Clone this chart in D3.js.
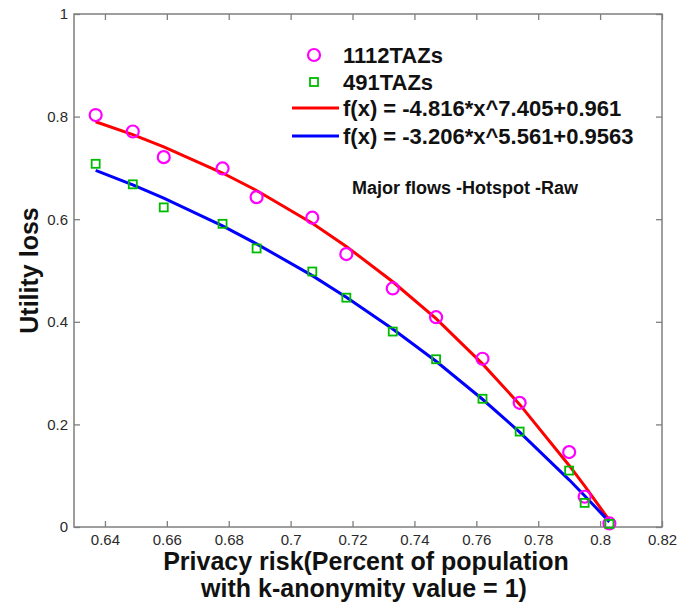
<!DOCTYPE html>
<html>
<head>
<meta charset="utf-8">
<script src="https://cdn.jsdelivr.net/npm/d3@7"></script>
<style>
  body { margin: 0; background: #fff; }
  svg text { font-family: "Liberation Sans", Arial, sans-serif; }
</style>
</head>
<body>
<div id="chart"></div>
<script>
// data
const privacy_risk = [0.637, 0.649, 0.659, 0.678, 0.689, 0.707, 0.718, 0.733, 0.747, 0.762, 0.774, 0.790, 0.795, 0.803]
const loss_1112 = [0.803, 0.771, 0.721, 0.699, 0.643, 0.603, 0.532, 0.465, 0.409, 0.328, 0.242, 0.146, 0.059, 0.007]
const loss_491 = [0.708, 0.668, 0.623, 0.591, 0.543, 0.498, 0.447, 0.381, 0.327, 0.250, 0.186, 0.110, 0.047, 0.006]
const fit_1112 = [0.790, 0.765, 0.741, 0.690, 0.656, 0.592, 0.547, 0.478, 0.406, 0.318, 0.239, 0.120, 0.080, 0.013]
const fit_491 = [0.695, 0.667, 0.641, 0.587, 0.552, 0.490, 0.448, 0.386, 0.323, 0.249, 0.185, 0.092, 0.061, 0.010]

const x_ticks = [0.64, 0.66, 0.68, 0.7, 0.72, 0.74, 0.76, 0.78, 0.8, 0.82]
const y_ticks = [0, 0.2, 0.4, 0.6, 0.8, 1]
const legend_labels = ["1112TAZs", "491TAZs", "f(x) = -4.816*x^7.405+0.961", "f(x) = -3.206*x^5.561+0.9563"]
const note_text = "Major flows -Hotspot -Raw"

// layout
const width = 694, height = 603
const margin = { left: 74, top: 14, right: 32, bottom: 76 }
const w = width - margin.left - margin.right
const h = height - margin.top - margin.bottom
const axis_color = "#7f7f7f"

const svg = d3.select("#chart")
    .append("svg")
        .attr("width", width)
        .attr("height", height)

const g = svg.append("g")
    .attr("transform", `translate(${margin.left}, ${margin.top})`)

const x = d3.scaleLinear().domain([0.63, 0.82]).range([0, w])
const y = d3.scaleLinear().domain([0, 1]).range([h, 0])

// axes (ticks pointing inward, on all four sides)
function styleAxis(sel) {
    sel.select(".domain").remove()
    sel.selectAll(".tick line").attr("stroke", axis_color).attr("stroke-width", 1.3)
    sel.selectAll(".tick text")
        .attr("fill", "#2a2a2a")
        .style("font-size", "15px")
}

g.append("g")
    .attr("transform", `translate(0, ${h})`)
    .call(d3.axisBottom(x).tickValues(x_ticks).tickSizeInner(-6).tickSizeOuter(0)
            .tickPadding(7).tickFormat(d => String(d)))
    .call(styleAxis)

g.append("g")
    .call(d3.axisTop(x).tickValues(x_ticks).tickSizeInner(-6).tickSizeOuter(0).tickFormat(""))
    .call(styleAxis)

g.append("g")
    .call(d3.axisLeft(y).tickValues(y_ticks).tickSizeInner(-6).tickSizeOuter(0)
            .tickPadding(6).tickFormat(d => String(d)))
    .call(styleAxis)

g.append("g")
    .attr("transform", `translate(${w}, 0)`)
    .call(d3.axisRight(y).tickValues(y_ticks).tickSizeInner(-6).tickSizeOuter(0).tickFormat(""))
    .call(styleAxis)

g.append("rect")
    .attr("width", w)
    .attr("height", h)
    .attr("fill", "none")
    .attr("stroke", axis_color)
    .attr("stroke-width", 1.5)

// fitted lines
const line = d3.line()
    .x(d => x(d[0]))
    .y(d => y(d[1]))

g.append("path")
    .datum(d3.zip(privacy_risk, fit_1112))
    .attr("d", line)
    .attr("fill", "none")
    .attr("stroke", "#ff0000")
    .attr("stroke-width", 3)

g.append("path")
    .datum(d3.zip(privacy_risk, fit_491))
    .attr("d", line)
    .attr("fill", "none")
    .attr("stroke", "#0000ff")
    .attr("stroke-width", 3)

// markers
g.selectAll("circle.taz1112")
    .data(d3.zip(privacy_risk, loss_1112))
    .join("circle")
        .attr("class", "taz1112")
        .attr("cx", d => x(d[0]))
        .attr("cy", d => y(d[1]))
        .attr("r", 6)
        .attr("fill", "none")
        .attr("stroke", "#ff00ff")
        .attr("stroke-width", 2.2)

const sq = 8
g.selectAll("rect.taz491")
    .data(d3.zip(privacy_risk, loss_491))
    .join("rect")
        .attr("class", "taz491")
        .attr("x", d => x(d[0]) - sq / 2)
        .attr("y", d => y(d[1]) - sq / 2)
        .attr("width", sq)
        .attr("height", sq)
        .attr("fill", "none")
        .attr("stroke", "#00bb00")
        .attr("stroke-width", 1.8)

// legend
const lg = svg.append("g")
const legend_y = [55, 82, 108, 136]
const text_x = 343

lg.append("circle")
    .attr("cx", 314).attr("cy", legend_y[0]).attr("r", 6)
    .attr("fill", "none").attr("stroke", "#ff00ff").attr("stroke-width", 2.2)
lg.append("rect")
    .attr("x", 314 - sq / 2).attr("y", legend_y[1] - sq / 2)
    .attr("width", sq).attr("height", sq)
    .attr("fill", "none").attr("stroke", "#00bb00").attr("stroke-width", 1.8)
lg.append("line")
    .attr("x1", 292).attr("x2", 339).attr("y1", legend_y[2]).attr("y2", legend_y[2])
    .attr("stroke", "#ff0000").attr("stroke-width", 3)
lg.append("line")
    .attr("x1", 292).attr("x2", 339).attr("y1", legend_y[3]).attr("y2", legend_y[3])
    .attr("stroke", "#0000ff").attr("stroke-width", 3)

lg.selectAll("text")
    .data(legend_labels)
    .join("text")
        .attr("x", text_x)
        .attr("y", (d, i) => legend_y[i] + 8)
        .text(d => d)
        .style("font-size", "22px")
        .style("font-weight", "bold")
        .attr("fill", "#111")

svg.append("text")
    .attr("x", 352)
    .attr("y", 194)
    .text(note_text)
    .style("font-size", "18px")
    .style("font-weight", "bold")
    .attr("fill", "#111")

// axis titles
svg.append("text")
    .attr("transform", `translate(38, ${margin.top + h / 2}) rotate(-90)`)
    .attr("text-anchor", "middle")
    .text("Utility loss")
    .style("font-size", "25px")
    .style("font-weight", "bold")
    .attr("fill", "#111")

svg.append("text")
    .attr("x", 366)
    .attr("y", 570)
    .attr("text-anchor", "middle")
    .text("Privacy risk(Percent of population")
    .style("font-size", "25px")
    .style("font-weight", "bold")
    .attr("fill", "#111")

svg.append("text")
    .attr("x", 364)
    .attr("y", 597)
    .attr("text-anchor", "middle")
    .text("with k-anonymity value = 1)")
    .style("font-size", "25px")
    .style("font-weight", "bold")
    .attr("fill", "#111")
</script>
</body>
</html>
